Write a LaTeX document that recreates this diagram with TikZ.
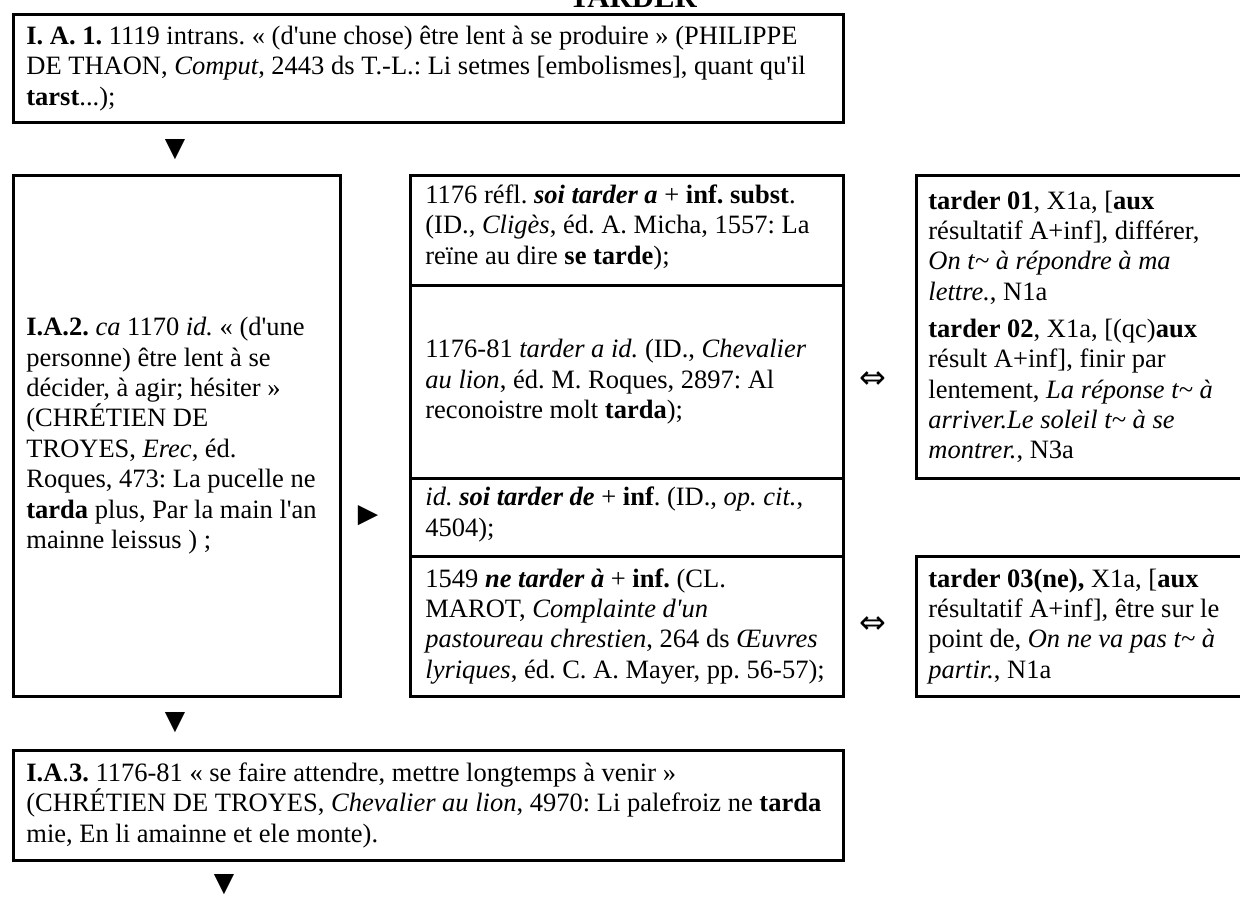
\documentclass[tikz,border=0pt]{standalone}
\usepackage{fontspec}
\setmainfont{Liberation Serif}
\newfontfamily\signfont{DejaVu Sans}
\usepackage{tikz}
\newcommand{\q}{\textquotesingle}
\newcommand{\tl}{\textasciitilde{}}
\frenchspacing
\tikzset{
    entry-box/.style = {draw, line width=1.3pt, rectangle, anchor=north west, inner sep=0pt},
    entry-text/.style = {anchor=west, align=left, inner sep=0pt, font=\fontsize{13.25pt}{15.2pt}\selectfont},
    entry-sign/.style = {inner sep=0pt, font=\signfont\fontsize{13.25pt}{15pt}\selectfont},
}
\begin{document}
\begin{tikzpicture}[x=0.5pt, y=-0.5pt]
\useasboundingbox (0,0) rectangle (1240,906);
\fill[white] (0,0) rectangle (1240,906);
\clip (0,0) rectangle (1240,906);
\node[anchor=base, inner sep=0pt, font=\bfseries\fontsize{15.4pt}{18pt}\selectfont] (title) at (633,7) {TARDER};

\node[entry-box, minimum width=415pt, minimum height=54pt] (sense1) at (12,13) {};
\node[entry-text] (sense1-text) at ([xshift=7pt]sense1.west) {\textbf{I. A. 1.} 1119 intrans. « (d\q une chose) être lent à se produire » (PHILIPPE\\ DE THAON, \textit{Comput}, 2443 ds T.-L.: Li setmes [embolismes], quant qu\q il\\ \textbf{tarst}...);};

\node[entry-box, minimum width=163.5pt, minimum height=260.5pt] (sense2) at (12,174) {};
\node[entry-text] (sense2-text) at ([xshift=7pt]sense2.west) {\textbf{I.A.2.} \textit{ca} 1170 \textit{id.} « (d\q une\\ personne) être lent à se\\ décider, à agir; hésiter »\\ (CHRÉTIEN DE\\ TROYES, \textit{Erec}, éd.\\ Roques, 473: La pucelle ne\\ \textbf{tarda} plus, Par la main l\q an\\ mainne leissus ) ;};

\node[entry-box, minimum width=216.5pt, minimum height=55pt] (use1) at (409,174) {};
\node[entry-box, minimum width=216.5pt, minimum height=96.5pt] (use2) at (409,284) {};
\node[entry-box, minimum width=216.5pt, minimum height=39pt] (use3) at (409,477) {};
\node[entry-box, minimum width=216.5pt, minimum height=70pt] (use4) at (409,555) {};
\node[entry-text] (use1-text) at ([xshift=8pt, yshift=1.5pt]use1.west) {1176 réfl. \textbf{\textit{soi tarder a}} + \textbf{inf. subst}.\\ (ID., \textit{Cligès}, éd. A. Micha, 1557: La\\ reïne au dire \textbf{se tarde});};
\node[entry-text] (use2-text) at ([xshift=8pt]use2.west) {1176-81 \textit{tarder a id.} (ID., \textit{Chevalier}\\ \textit{au lion}, éd. M. Roques, 2897: Al\\ reconoistre molt \textbf{tarda});};
\node[entry-text] (use3-text) at ([xshift=8pt, yshift=1.5pt]use3.west) {\textit{id.} \textbf{\textit{soi tarder de}} + \textbf{inf}. (ID., \textit{op. cit.},\\ 4504);};
\node[entry-text] (use4-text) at ([xshift=8pt]use4.west) {1549 \textbf{\textit{ne tarder à}} + \textbf{inf.} (CL.\\ MAROT, \textit{Complainte d\q un}\\ \textit{pastoureau chrestien}, 264 ds \textit{Œuvres}\\ \textit{lyriques}, éd. C. A. Mayer, pp. 56-57);};

\node[entry-box, minimum width=170pt, minimum height=151.5pt] (modern1) at (915,174) {};
\node[entry-box, minimum width=170pt, minimum height=70pt] (modern2) at (915,555) {};
\node[entry-text] (modern1-text) at ([xshift=6.5pt]modern1.west) {\textbf{tarder 01}, X1a, [\textbf{aux}\\ résultatif A+inf], différer,\\ \textit{On t\tl\ à répondre à ma}\\ \textit{lettre.}, N1a\\[3.3pt] \textbf{tarder 02}, X1a, [(qc)\textbf{aux}\\ résult A+inf], finir par\\ lentement, \textit{La réponse t\tl\ à}\\ \textit{arriver.Le soleil t\tl\ à se}\\ \textit{montrer.}, N3a};
\node[entry-text] (modern2-text) at ([xshift=6.5pt]modern2.west) {\textbf{tarder 03(ne),} X1a, [\textbf{aux}\\ résultatif A+inf], être sur le\\ point de, \textit{On ne va pas t\tl\ à}\\ \textit{partir.}, N1a};

\node[entry-box, minimum width=415pt, minimum height=55pt] (sense3) at (12,749) {};
\node[entry-text] (sense3-text) at ([xshift=7pt]sense3.west) {\textbf{I.A}.\textbf{3.} 1176-81 « se faire attendre, mettre longtemps à venir »\\ (CHRÉTIEN DE TROYES, \textit{Chevalier au lion}, 4970: Li palefroiz ne \textbf{tarda}\\ mie, En li amainne et ele monte).};

\node[entry-sign] (down1) at (175,150) {▼};
\node[entry-sign] (down2) at (175,723) {▼};
\node[entry-sign] (down3) at (224,885) {▼};
\node[entry-sign] (right1) at (368,516) {▶};
\node[entry-sign, font=\signfont\fontsize{16pt}{18pt}\selectfont] (equiv1) at (873,380) {⇔};
\node[entry-sign, font=\signfont\fontsize{16pt}{18pt}\selectfont] (equiv2) at (873,625) {⇔};
\end{tikzpicture}
\end{document}
